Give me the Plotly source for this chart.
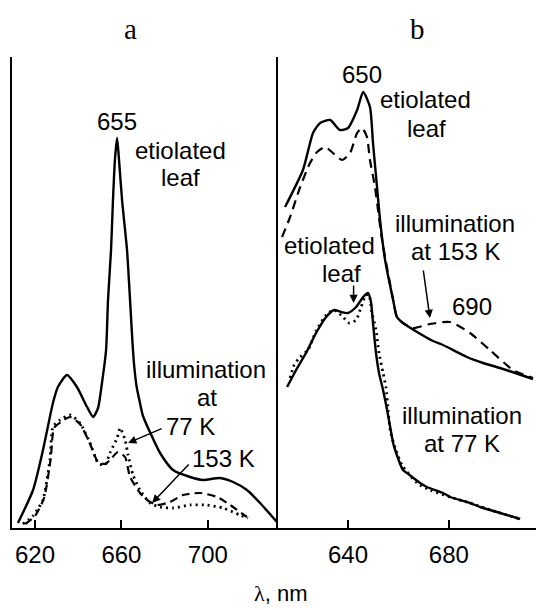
import plotly.graph_objects as go

W, H = 536, 610

# ---------------- data (arbitrary intensity units) ----------------
# panel a
a_etiol_wl = [612.1, 619.1, 623.7, 628.3, 630.6, 634.8, 639.4, 644.1, 646.9, 649.2, 651.0, 652.9, 653.8,
              655.2, 656.1, 657.0, 658.0, 658.9, 660.3, 662.6, 664.0, 665.0, 665.8, 667.0, 668.6, 670.0,
              673.2, 677.9, 683.9, 691.8, 697.8, 705.6, 711.7, 718.1, 724.2, 732.0]
a_etiol_v = [5, 38, 78, 125, 141, 153, 141, 121, 111, 120, 145, 178, 228,
             278, 328, 368, 390, 368, 328, 278, 228, 190, 165, 142, 125, 112,
             96, 75, 58, 51, 48, 50, 46, 38, 25, 6]

a_77_wl = [614.4, 619.0, 621.0, 623.7, 626.9, 628.3, 631.6, 636.2, 640.8, 645.5, 649.2, 652.4, 654.7,
           658.0, 659.4, 661.7, 663.1, 665.4, 668.6, 673.2, 677.9, 683.9, 691.8, 699.6, 707.0, 714.9, 718.6]
a_77_v = [4, 12, 18, 28, 68, 101, 108, 113, 105, 85, 65, 63, 75,
          90, 100, 88, 73, 53, 38, 25, 21, 20, 23, 23, 20, 13, 10]

a_153_wl = [615.5, 620.0, 624.2, 627.3, 628.8, 632.0, 636.2, 640.8, 645.5, 649.2, 652.4, 654.7, 658.4,
            661.7, 664.0, 668.6, 671.9, 676.5, 682.5, 688.5, 696.4, 704.3, 710.3, 718.1]
a_153_v = [4, 12, 30, 70, 100, 106, 111, 104, 84, 66, 64, 68, 76,
           71, 51, 35, 28, 23, 26, 33, 35, 31, 23, 11]

# panel b (upper pair)
b_etiol_top_wl = [615.0, 622.1, 626.1, 628.9, 632.9, 636.8, 640.0, 643.6, 646.0, 648.7, 649.9, 651.5,
                  652.7, 654.7, 657.9, 659.4, 661.8, 667.4, 673.7, 677.7, 687.2, 693.6, 700.3, 713.4]
b_etiol_top_v = [321, 358, 395, 405, 408, 398, 400, 418, 436, 421, 385, 341,
                 308, 268, 228, 211, 205, 196, 187, 183, 171, 165, 160, 149]

b_153_wl = [613.8, 617.0, 621.0, 624.9, 627.7, 630.9, 634.0, 637.6, 640.8, 643.6, 645.6, 647.5, 648.7,
            650.7, 651.9, 653.5, 657.9, 659.4, 661.8, 665.8, 672.5, 680.5, 688.4, 696.3, 705.5, 713.4]
b_153_v = [291, 311, 341, 365, 376, 381, 375, 368, 375, 395, 400, 391, 368,
           341, 318, 288, 228, 211, 205, 200, 204, 206, 195, 178, 158, 150]

# panel b (lower pair)
b_etiol_low_wl = [615.8, 619.4, 623.3, 627.3, 631.3, 634.4, 637.2, 640.0, 643.2, 646.0, 647.9, 649.1,
                  649.9, 651.1, 652.3, 653.9, 655.5, 657.9, 658.7, 661.8, 663.4, 668.6, 671.3, 677.7,
                  680.5, 688.4, 692.4, 699.1, 708.3]
b_etiol_low_v = [141, 158, 175, 195, 211, 218, 216, 215, 221, 231, 235, 226,
                 205, 175, 155, 138, 118, 85, 78, 58, 55, 45, 41, 35,
                 31, 25, 21, 16, 9]

b_77_wl = [617.0, 618.6, 620.6, 624.1, 627.3, 631.3, 634.4, 638.0, 640.4, 643.2, 645.2, 647.1, 648.3,
           649.5, 651.1, 652.3, 653.9, 655.1, 655.9, 656.7, 658.7, 661.4, 667.4, 672.5, 680.5, 688.4,
           699.1, 708.3]
b_77_v = [150, 163, 170, 178, 197, 213, 218, 211, 205, 208, 221, 233, 233,
          215, 198, 175, 155, 140, 118, 98, 80, 63, 45, 38, 31, 25,
          16, 9]

a_ticks = [620, 660, 700]
b_ticks = [640, 680]

# ---------------- figure ----------------
fig = go.Figure()


def add(x, y, dash, width, xa, ya):
    fig.add_trace(go.Scatter(
        x=x, y=y, mode="lines",
        line=dict(color="black", width=width, dash=dash, shape="spline", smoothing=0.6),
        xaxis=xa, yaxis=ya, hoverinfo="skip", showlegend=False))


add(a_etiol_wl, a_etiol_v, "solid", 2.4, "x", "y")
add(a_153_wl, a_153_v, "8px,5px", 2.2, "x", "y")
add(a_77_wl, a_77_v, "2px,4px", 2.8, "x", "y")

add(b_etiol_top_wl, b_etiol_top_v, "solid", 2.4, "x2", "y2")
add(b_153_wl, b_153_v, "9px,6px", 2.2, "x2", "y2")
add(b_etiol_low_wl, b_etiol_low_v, "solid", 2.4, "x2", "y2")
add(b_77_wl, b_77_v, "2px,4px", 2.8, "x2", "y2")

y_dom = [1 - 528 / H, 1 - 57 / H]
tickfont = dict(family="Liberation Sans, Arial, sans-serif", size=24, color="black")
common_x = dict(ticks="inside", ticklen=8, tickwidth=2, tickcolor="black", showline=True,
                linewidth=2, linecolor="black", showgrid=False, zeroline=False,
                tickfont=tickfont, ticklabelstandoff=4, fixedrange=True)
common_y = dict(range=[0, 471], domain=y_dom, showline=True, linewidth=2, linecolor="black",
                showticklabels=False, ticks="", showgrid=False, zeroline=False, fixedrange=True)

fig.update_layout(
    width=W, height=H,
    margin=dict(l=0, r=0, t=0, b=0),
    paper_bgcolor="white", plot_bgcolor="white",
    xaxis=dict(domain=[12 / W, 278 / W], range=[609.35, 732.5], tickvals=a_ticks, anchor="y", **common_x),
    xaxis2=dict(domain=[278 / W, 1], range=[612.2, 714.6], tickvals=b_ticks, anchor="y2", **common_x),
    yaxis=dict(anchor="x", **common_y),
    yaxis2=dict(anchor="x2", **common_y),
)

FONT = dict(family="Liberation Sans, Arial, sans-serif", size=24, color="black")


def T(text, xc, yc, font=FONT):
    fig.add_annotation(text=text, x=xc / W, y=1 - yc / H, xref="paper", yref="paper",
                       xanchor="center", yanchor="middle", showarrow=False, font=font)


def A(xr, yr, hx, hy, tx, ty):
    fig.add_annotation(text="", x=hx, y=hy, ax=tx, ay=ty, xref=xr, yref=yr, axref=xr, ayref=yr,
                       showarrow=True, arrowhead=2, arrowsize=1.1, arrowwidth=1.5, arrowcolor="black")


serif = dict(family="Liberation Serif, Times New Roman, serif", size=29, color="black")
T("a", 130, 29, serif)
T("b", 417, 29, serif)

# panel a labels
T("655", 117, 122)
T("etiolated", 180, 150)
T("leaf", 180, 178)
T("illumination", 206, 369)
T("at", 207, 397)
T("77 K", 190, 426)
T("153 K", 223, 458)
A("x", "y", 663.1, 85, 679.3, 100)
A("x", "y", 674.2, 25, 691.8, 65)

# panel b labels
T("650", 362, 74)
T("etiolated", 425, 100)
T("leaf", 426, 128)
T("illumination", 455, 223)
T("at 153 K", 455, 251)
T("690", 472, 306)
T("etiolated", 330, 245)
T("leaf", 341, 273)
T("illumination", 462, 415)
T("at 77 K", 462, 443)
A("x2", "y2", 672.5, 210, 669.8, 259)
A("x2", "y2", 642.2, 225, 642.2, 244)

T("<span style='font-family:Liberation Serif'>λ</span>, nm", 280, 593,
  dict(family="Liberation Sans, Arial, sans-serif", size=22, color="black"))

fig.write_html("out.html")
